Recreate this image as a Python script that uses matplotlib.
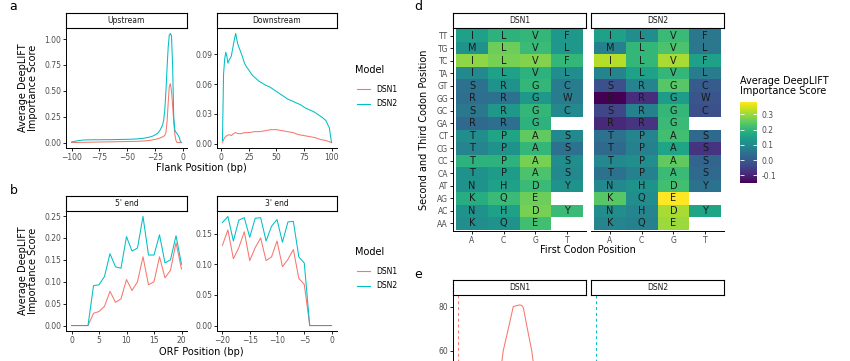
import numpy as np
import matplotlib
matplotlib.use("Agg")
import matplotlib.pyplot as plt
from matplotlib.lines import Line2D

DSN1_COL = "#F8766D"
DSN2_COL = "#00BFC4"

# ---- panel a: flank positions ----
up_x2 = [-100, -97, -94, -90, -85, -80, -75, -70, -65, -60, -55, -50, -45, -40, -35, -30, -27, -24,
         -22, -20, -18, -17, -16, -15, -14, -13, -12, -11, -10, -9, -8, -7, -6, -5, -4, -3, -2, -1]
up_dsn2 = [0.005, 0.012, 0.018, 0.024, 0.026, 0.027, 0.027, 0.028, 0.028, 0.029, 0.030, 0.031, 0.033,
           0.036, 0.042, 0.052, 0.062, 0.078, 0.095, 0.125, 0.17, 0.22, 0.32, 0.50, 0.72, 0.92, 1.04,
           1.055, 1.03, 0.75, 0.25, 0.12, 0.10, 0.085, 0.07, 0.05, 0.01, 0.0]
up_x1 = [-100, -90, -80, -70, -60, -50, -40, -35, -30, -25, -22, -19, -17, -16, -15, -14, -13, -12,
         -11, -10, -9, -8, -7, -6, -5, -4, -3, -2, -1]
up_dsn1 = [0.0, 0.002, 0.004, 0.006, 0.008, 0.010, 0.012, 0.015, 0.020, 0.030, 0.038, 0.050, 0.060,
           0.070, 0.10, 0.20, 0.38, 0.54, 0.57, 0.50, 0.36, 0.20, 0.08, 0.02, 0.0, 0.0, 0.0, 0.0, 0.0]

down_x2 = [1, 2, 3, 4, 5, 6, 7, 8, 9, 10, 11, 12, 13, 14, 15, 17, 19, 21, 23, 25, 28, 31, 34, 37, 40,
           44, 48, 52, 56, 60, 64, 68, 72, 76, 80, 84, 88, 92, 95, 97, 98, 99, 100]
down_dsn2 = [0.003, 0.070, 0.085, 0.092, 0.088, 0.081, 0.084, 0.086, 0.088, 0.094, 0.100, 0.106, 0.111,
             0.105, 0.100, 0.094, 0.088, 0.081, 0.077, 0.074, 0.069, 0.066, 0.063, 0.061, 0.059, 0.057,
             0.054, 0.051, 0.048, 0.045, 0.043, 0.041, 0.039, 0.036, 0.034, 0.032, 0.029, 0.026, 0.023,
             0.018, 0.016, 0.008, 0.001]
down_x1 = [1, 3, 5, 7, 9, 11, 13, 15, 18, 21, 25, 30, 35, 40, 45, 50, 55, 60, 65, 70, 75, 80, 85, 90, 95, 100]
down_dsn1 = [0.001, 0.006, 0.008, 0.009, 0.008, 0.010, 0.011, 0.010, 0.010, 0.011, 0.011, 0.012, 0.012,
             0.013, 0.014, 0.014, 0.013, 0.012, 0.011, 0.009, 0.008, 0.007, 0.006, 0.004, 0.003, 0.001]

# ---- panel b: ORF positions ----
five_x = list(range(0, 21))
five_dsn1 = [0, 0, 0, 0, 0.028, 0.032, 0.044, 0.078, 0.053, 0.061, 0.105, 0.080, 0.100, 0.157,
             0.093, 0.100, 0.157, 0.109, 0.126, 0.189, 0.129]
five_dsn2 = [0, 0, 0, 0, 0.091, 0.093, 0.112, 0.164, 0.134, 0.131, 0.203, 0.170, 0.177, 0.249,
             0.161, 0.161, 0.207, 0.143, 0.150, 0.205, 0.140]
three_x = list(range(-20, 1))
three_dsn1 = [0.131, 0.156, 0.109, 0.127, 0.153, 0.106, 0.127, 0.143, 0.106, 0.112, 0.138, 0.096,
              0.108, 0.124, 0.077, 0.067, 0, 0, 0, 0, 0]
three_dsn2 = [0.168, 0.178, 0.138, 0.172, 0.176, 0.144, 0.175, 0.176, 0.138, 0.162, 0.173, 0.136,
              0.169, 0.170, 0.112, 0.102, 0, 0, 0, 0, 0]

# ---- panel d: codon heatmap ----
first_pos = ["A", "C", "G", "T"]
second_third = ["TT", "TG", "TC", "TA", "GT", "GG", "GC", "GA",
                "CT", "CG", "CC", "CA", "AT", "AG", "AC", "AA"]
amino = [["I", "L", "V", "F"], ["M", "L", "V", "L"], ["I", "L", "V", "F"], ["I", "L", "V", "L"],
         ["S", "R", "G", "C"], ["R", "R", "G", "W"], ["S", "R", "G", "C"], ["R", "R", "G", ""],
         ["T", "P", "A", "S"], ["T", "P", "A", "S"], ["T", "P", "A", "S"], ["T", "P", "A", "S"],
         ["N", "H", "D", "Y"], ["K", "Q", "E", ""], ["N", "H", "D", "Y"], ["K", "Q", "E", ""]]
nan = np.nan
heat_dsn1 = [[0.15, 0.19, 0.20, 0.13], [0.12, 0.26, 0.21, 0.13], [0.29, 0.27, 0.28, 0.20],
             [0.10, 0.15, 0.19, 0.11], [0.05, 0.12, 0.20, 0.07], [0.04, 0.05, 0.13, 0.07],
             [0.06, 0.13, 0.20, 0.10], [0.03, 0.04, 0.19, nan], [0.11, 0.16, 0.25, 0.10],
             [0.09, 0.12, 0.20, 0.05], [0.19, 0.19, 0.27, 0.11], [0.12, 0.14, 0.23, 0.10],
             [0.12, 0.15, 0.21, 0.12], [0.18, 0.21, 0.26, nan], [0.12, 0.15, 0.27, 0.21],
             [0.11, 0.12, 0.22, nan]]
heat_dsn2 = [[0.15, 0.11, 0.21, 0.06], [0.08, 0.20, 0.23, 0.06], [0.32, 0.20, 0.31, 0.15],
             [0.09, 0.15, 0.20, 0.07], [-0.02, 0.09, 0.24, 0.00], [-0.15, -0.08, 0.14, -0.01],
             [-0.04, 0.08, 0.20, -0.02], [-0.09, -0.07, 0.21, nan], [0.05, 0.09, 0.22, 0.03],
             [0.03, 0.08, 0.16, -0.07], [0.10, 0.11, 0.25, 0.02], [0.05, 0.08, 0.21, 0.03],
             [0.10, 0.12, 0.22, 0.05], [0.24, 0.11, 0.38, nan], [0.11, 0.09, 0.31, 0.16],
             [0.09, 0.08, 0.30, nan]]

# ---- panel e ----
e_x = [30.5, 33.8, 37.6, 41.3, 43.9, 46.4, 47.7, 48.9, 51.9, 55.2, 58.5]
e_dsn1 = [45, 60, 70, 80, 80.5, 80.8, 80.5, 79.5, 70, 60, 45]
e_marker = 0
e_ticks = [60, 80]

W, H = 850, 361
fig = plt.figure(figsize=(8.5, 3.61), dpi=100)


def px_axes(x0, y0, x1, y1):
    return fig.add_axes([x0 / W, 1 - y1 / H, (x1 - x0) / W, (y1 - y0) / H])


def strip(x0, x1, y0, y1, label):
    s = px_axes(x0, y0, x1, y1)
    s.set_xticks([])
    s.set_yticks([])
    for sp in s.spines.values():
        sp.set_linewidth(0.8)
    s.text(0.5, 0.5, label, ha="center", va="center", fontsize=5.5, color="#1A1A1A",
           transform=s.transAxes)


def style(ax, left=True):
    ax.spines["top"].set_visible(False)
    ax.spines["right"].set_visible(False)
    ax.spines["left"].set_visible(left)
    ax.spines["left"].set_linewidth(0.7)
    ax.spines["bottom"].set_linewidth(0.7)
    ax.tick_params(labelsize=5.5, labelcolor="#4D4D4D", length=2, width=0.6, pad=1.5)


def ftext(x, y, s, **kw):
    fig.text(x / W, 1 - y / H, s, **kw)


def legend(y0):
    ftext(355, y0, "Model", fontsize=7, ha="left", va="center")
    for i, (name, col) in enumerate([("DSN1", DSN1_COL), ("DSN2", DSN2_COL)]):
        yy = y0 + 19 + 15 * i
        fig.add_artist(Line2D([357 / W, 370 / W], [1 - yy / H, 1 - yy / H], color=col, lw=0.8,
                              transform=fig.transFigure))
        ftext(376, yy, name, fontsize=5.5, ha="left", va="center")


lw = 0.75

# panel a
ax = px_axes(66, 28, 187, 148)
ax.plot(up_x1, up_dsn1, color=DSN1_COL, lw=lw)
ax.plot(up_x2, up_dsn2, color=DSN2_COL, lw=lw)
ax.set_xticks([-100, -75, -50, -25, 0])
ax.set_yticks([0, 0.25, 0.5, 0.75, 1.0])
ax.set_yticklabels(["0.00", "0.25", "0.50", "0.75", "1.00"])
style(ax)
strip(66, 187, 13, 28, "Upstream")

ax = px_axes(217, 28, 337, 148)
ax.plot(down_x1, down_dsn1, color=DSN1_COL, lw=lw)
ax.plot(down_x2, down_dsn2, color=DSN2_COL, lw=lw)
ax.set_xticks([0, 25, 50, 75, 100])
ax.set_yticks([0, 0.03, 0.06, 0.09])
ax.set_yticklabels(["0.00", "0.03", "0.06", "0.09"])
style(ax)
strip(217, 337, 13, 28, "Downstream")

ftext(13, 7, "a", fontsize=9, ha="center", va="center")
ftext(28, 88, "Average DeepLIFT\nImportance Score", fontsize=7, rotation=90, ha="center",
      va="center", linespacing=1.0)
ftext(201, 168, "Flank Position (bp)", fontsize=7, ha="center", va="center")
legend(70)

# panel b
ax = px_axes(66, 211, 187, 331)
ax.plot(five_x, five_dsn1, color=DSN1_COL, lw=lw)
ax.plot(five_x, five_dsn2, color=DSN2_COL, lw=lw)
ax.set_xticks([0, 5, 10, 15, 20])
ax.set_yticks([0, 0.05, 0.1, 0.15, 0.2, 0.25])
ax.set_yticklabels(["0.00", "0.05", "0.10", "0.15", "0.20", "0.25"])
style(ax)
strip(66, 187, 196, 211, "5' end")

ax = px_axes(217, 211, 337, 331)
ax.plot(three_x, three_dsn1, color=DSN1_COL, lw=lw)
ax.plot(three_x, three_dsn2, color=DSN2_COL, lw=lw)
ax.set_xticks([-20, -15, -10, -5, 0])
ax.set_yticks([0, 0.05, 0.1, 0.15])
ax.set_yticklabels(["0.00", "0.05", "0.10", "0.15"])
style(ax)
strip(217, 337, 196, 211, "3' end")

ftext(14, 190, "b", fontsize=9, ha="center", va="center")
ftext(28, 271, "Average DeepLIFT\nImportance Score", fontsize=7, rotation=90, ha="center",
      va="center", linespacing=1.0)
ftext(201, 352, "ORF Position (bp)", fontsize=7, ha="center", va="center")
legend(252)

# panel d
all_vals = np.array(heat_dsn1 + heat_dsn2, dtype=float)
vmin, vmax = np.nanmin(all_vals), np.nanmax(all_vals)
nrow = len(second_third)
ypos = np.arange(nrow, 0, -1)
mesh = None
for k, (name, vals, x0, x1) in enumerate([("DSN1", heat_dsn1, 453, 586), ("DSN2", heat_dsn2, 591, 724)]):
    ax = px_axes(x0, 28, x1, 231)
    z = np.ma.masked_invalid(np.array(vals, dtype=float)[::-1])
    mesh = ax.pcolormesh(np.arange(0.5, 5.0, 1.0), np.arange(0.5, nrow + 1.0, 1.0), z,
                         cmap="viridis", vmin=vmin, vmax=vmax, shading="flat")
    for i in range(nrow):
        for j in range(4):
            if amino[i][j]:
                ax.text(j + 1, ypos[i], amino[i][j], ha="center", va="center", fontsize=7,
                        color="#1A1A1A")
    ax.set_xlim(0.4, 4.6)
    ax.set_ylim(0.4, nrow + 0.6)
    ax.set_xticks(range(1, 5))
    ax.set_xticklabels(first_pos)
    if k == 0:
        ax.set_yticks(ypos)
        ax.set_yticklabels(second_third)
    else:
        ax.set_yticks([])
    style(ax, left=(k == 0))
    strip(x0, x1, 13, 28, name)

cax = px_axes(740, 102, 757, 183)
cb = fig.colorbar(mesh, cax=cax)
cb.outline.set_visible(False)
cb.set_ticks([-0.1, 0.0, 0.1, 0.2, 0.3])
cb.set_ticklabels(["-0.1", "0.0", "0.1", "0.2", "0.3"])
cax.tick_params(labelsize=5.5, labelcolor="#4D4D4D", direction="in", color="white",
                length=3, width=0.6, left=True, right=True, pad=3)
ftext(740, 86, "Average DeepLIFT\nImportance Score", fontsize=7, ha="left", va="center",
      linespacing=1.0)

ftext(418, 7, "d", fontsize=9, ha="center", va="center")
ftext(424, 130, "Second and Third Codon Position", fontsize=7, rotation=90, ha="center",
      va="center")
ftext(588, 250, "First Codon Position", fontsize=7, ha="center", va="center")

# panel e (cut off at the bottom in the original figure)
for k, (name, col, x0, x1) in enumerate([("DSN1", DSN1_COL, 453, 586), ("DSN2", DSN2_COL, 591, 724)]):
    ax = px_axes(x0, 295, x1, 295 + 89.3 * 2.2)
    if k == 0:
        ax.plot(e_x, e_dsn1, color=DSN1_COL, lw=lw)
    ax.axvline(e_marker, color=col, lw=0.7, ls=(0, (3, 3)))
    ax.set_xlim(-4, 96)
    ax.set_ylim(-4, 85.3)
    if k == 0:
        ax.set_yticks(e_ticks)
    else:
        ax.set_yticks([])
    ax.set_xticks([])
    style(ax, left=(k == 0))
    strip(x0, x1, 280, 295, name)

ftext(418, 274, "e", fontsize=9, ha="center", va="center")

fig.savefig("out.png", dpi=100)
